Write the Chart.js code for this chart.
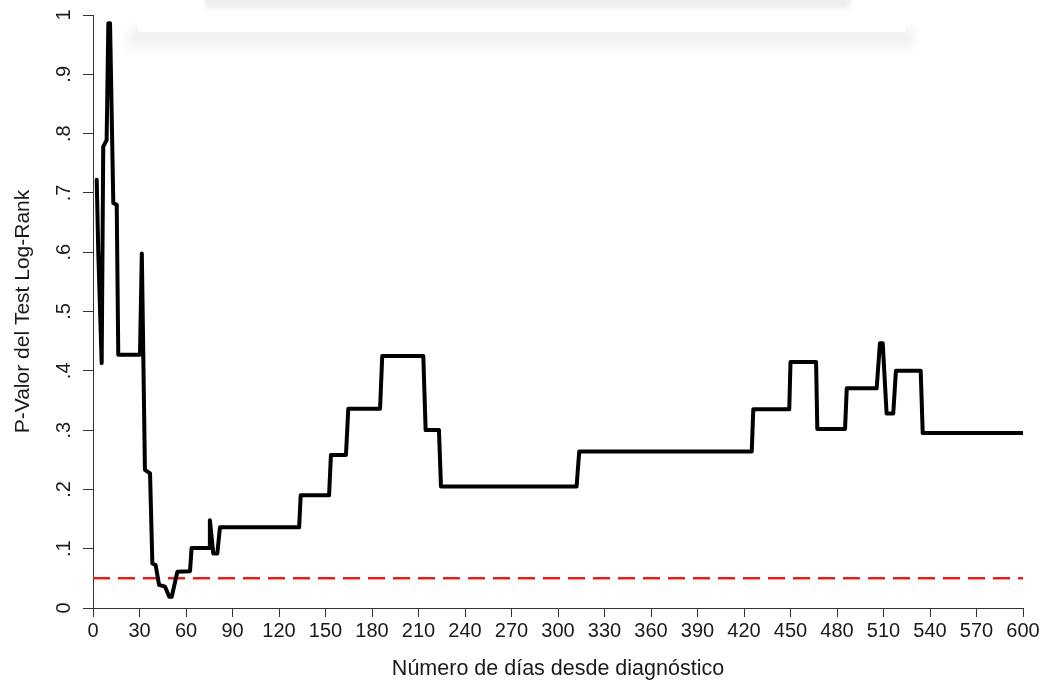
<!DOCTYPE html>
<html>
<head>
<meta charset="utf-8">
<script src="https://cdn.jsdelivr.net/npm/chart.js@4/dist/chart.umd.min.js"></script>
<style>
  html, body { margin: 0; padding: 0; background: #fff; }
  #wrap { width: 1047px; height: 684px; position: relative; }
</style>
</head>
<body>
<div id="wrap"><canvas id="c" width="1047" height="684"></canvas></div>
<script>
// Days since diagnosis and the log-rank p-value computed at each cut-off
const days = [2.4, 3.4, 5.6, 6.6, 8.8, 9.9, 11, 13.1, 15.3, 16.3, 30.3, 31.5, 33.5, 36.8, 38.3, 40.4, 42.6, 46.5, 49.2, 50.8,
  54.4, 62.6, 63.6, 75, 75.4, 77.6, 80.2, 81.9, 133, 134, 152.3, 153.5, 163.2, 164.7, 185.2, 186.6, 213.1, 214.6, 223.2, 224.5,
  312, 313.7, 425, 426, 449.2, 450, 466.5, 467.3, 485.2, 486.3, 505.6, 507.7, 509.5, 512, 516.3, 518, 534, 535.3, 600];
const pValues = [0.722, 0.600, 0.413, 0.778, 0.789, 0.986, 0.986, 0.683, 0.680, 0.427, 0.427, 0.598, 0.233, 0.227, 0.075, 0.0725, 0.039, 0.036, 0.019, 0.019,
  0.061, 0.062, 0.101, 0.101, 0.148, 0.092, 0.092, 0.136, 0.136, 0.190, 0.190, 0.258, 0.258, 0.336, 0.336, 0.425, 0.425, 0.300, 0.300, 0.205,
  0.205, 0.264, 0.264, 0.335, 0.335, 0.415, 0.415, 0.302, 0.302, 0.3705, 0.3705, 0.4465, 0.4465, 0.328, 0.328, 0.400, 0.400, 0.295, 0.295];

// Significance threshold drawn across the whole range
const alpha = 0.05;
const xRange = [0, 600];

// Axis ticks
const xTicks = [0, 30, 60, 90, 120, 150, 180, 210, 240, 270, 300, 330, 360, 390, 420, 450, 480, 510, 540, 570, 600];
const yTicks = [0, 0.1, 0.2, 0.3, 0.4, 0.5, 0.6, 0.7, 0.8, 0.9, 1];
const yTickLabels = ['0', '.1', '.2', '.3', '.4', '.5', '.6', '.7', '.8', '.9', '1'];

const xTitle = 'Número de días desde diagnóstico';
const yTitle = 'P-Valor del Test Log-Rank';

const FONT = '"Liberation Sans", Arial, sans-serif';
const INK = '#1a1a1a';

// Faint grey banner at the very top of the page
const banner = {
  id: 'banner',
  beforeDraw(chart) {
    const ctx = chart.ctx;
    ctx.save();
    ctx.filter = 'blur(2px)';
    ctx.fillStyle = 'rgba(0,0,0,0.07)';
    ctx.fillRect(205, -4, 645, 12);
    ctx.filter = 'blur(4px)';
    ctx.fillStyle = 'rgba(0,0,0,0.05)';
    ctx.fillRect(128, 28, 785, 20);
    ctx.filter = 'none';
    ctx.fillStyle = '#ffffff';
    ctx.fillRect(138, 12, 768, 20);
    ctx.restore();
  }
};

const lineData = days.map((d, i) => ({ x: d, y: pValues[i] }));
const alphaData = xRange.map(d => ({ x: d, y: alpha }));

new Chart(document.getElementById('c'), {
  type: 'line',
  data: {
    datasets: [
      {
        data: lineData,
        borderColor: '#000000',
        borderWidth: 4,
        borderJoinStyle: 'round',
        borderCapStyle: 'round',
        pointRadius: 0,
        tension: 0,
        order: 0
      },
      {
        data: alphaData,
        borderColor: '#e8201c',
        borderWidth: 2.5,
        borderDash: [17, 8],
        pointRadius: 0,
        tension: 0,
        order: 1
      }
    ]
  },
  options: {
    responsive: false,
    animation: false,
    layout: { padding: { top: 15, right: 24, left: 0, bottom: 0 } },
    plugins: { legend: { display: false }, tooltip: { enabled: false } },
    scales: {
      x: {
        type: 'linear',
        min: 0,
        max: 600,
        afterBuildTicks: s => { s.ticks = xTicks.map(v => ({ value: v })); },
        afterFit: s => { s.height = 76; },
        grid: { display: true, drawOnChartArea: false, drawTicks: true, tickLength: 9, color: '#333', lineWidth: 1 },
        border: { display: true, color: '#333', width: 1 },
        ticks: {
          autoSkip: false, maxRotation: 0, minRotation: 0, padding: 2,
          color: INK, font: { family: FONT, size: 20 },
          callback: v => String(v)
        },
        title: { display: true, text: xTitle, color: INK, font: { family: FONT, size: 21.5 }, padding: { top: 0, bottom: 2 } }
      },
      y: {
        type: 'linear',
        min: 0,
        max: 1,
        afterBuildTicks: s => { s.ticks = yTicks.map(v => ({ value: v })); },
        afterFit: s => { s.width = 93; s.paddingTop = 0; s.paddingBottom = 0; },
        grid: { display: true, drawOnChartArea: false, drawTicks: true, tickLength: 10, color: '#333', lineWidth: 1 },
        border: { display: true, color: '#333', width: 1 },
        ticks: {
          minRotation: 90, maxRotation: 90, crossAlign: 'center', padding: 10,
          color: INK, font: { family: FONT, size: 20 },
          callback: v => { const i = yTicks.findIndex(t => Math.abs(t - v) < 1e-9); return i >= 0 ? yTickLabels[i] : ''; }
        },
        title: { display: true, text: yTitle, color: INK, font: { family: FONT, size: 21 }, padding: { top: 11, bottom: 0 } }
      }
    }
  },
  plugins: [banner]
});
</script>
</body>
</html>
